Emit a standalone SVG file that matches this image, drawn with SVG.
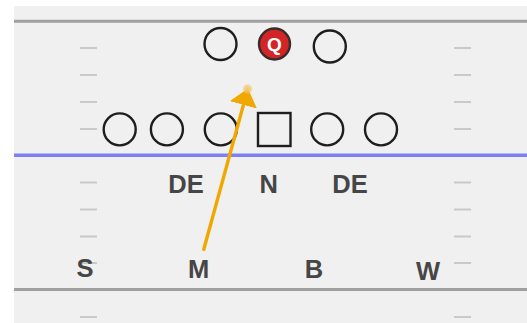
<svg xmlns="http://www.w3.org/2000/svg" width="527" height="323" viewBox="0 0 527 323">
  <style>
    .hash { stroke: #c9c9c9; stroke-width: 2; }
    .yard { stroke: #a0a0a0; stroke-width: 3; }
    .player { fill: #f0f0f0; stroke: #1e1e1e; stroke-width: 2.4; }
    .label { font-family: "Liberation Sans", Arial, sans-serif; font-weight: bold; font-size: 25.5px; fill: #464646; text-anchor: middle; }
    .route { stroke: #f0a800; stroke-width: 3.4; fill: none; }
  </style>
  <defs>
    <marker id="arrowhead" markerWidth="17" markerHeight="28" refX="4" refY="14" orient="auto" markerUnits="userSpaceOnUse" viewBox="0 0 17 28">
      <path d="M0,0 L17,14 L0,28 Z" fill="#f0a800"/>
    </marker>
    <radialGradient id="glow">
      <stop offset="0" stop-color="#f6c56a" stop-opacity="1"/>
      <stop offset="0.6" stop-color="#f6c56a" stop-opacity="0.7"/>
      <stop offset="1" stop-color="#f6c56a" stop-opacity="0"/>
    </radialGradient>
  </defs>

  <!-- field -->
  <rect x="0" y="0" width="527" height="323" fill="#ffffff"/>
  <rect x="14" y="6" width="513" height="317" fill="#f0f0f0"/>

  <!-- hash marks -->
  <g id="hashes">
    <g class="hash">
      <line x1="80" y1="48" x2="97" y2="48"/><line x1="454" y1="48" x2="471" y2="48"/>
      <line x1="80" y1="75" x2="97" y2="75"/><line x1="454" y1="75" x2="471" y2="75"/>
      <line x1="80" y1="102" x2="97" y2="102"/><line x1="454" y1="102" x2="471" y2="102"/>
      <line x1="80" y1="129" x2="97" y2="129"/><line x1="454" y1="129" x2="471" y2="129"/>
      <line x1="80" y1="182.5" x2="97" y2="182.5"/><line x1="454" y1="182.5" x2="471" y2="182.5"/>
      <line x1="80" y1="209.5" x2="97" y2="209.5"/><line x1="454" y1="209.5" x2="471" y2="209.5"/>
      <line x1="80" y1="236.5" x2="97" y2="236.5"/><line x1="454" y1="236.5" x2="471" y2="236.5"/>
      <line x1="80" y1="263" x2="97" y2="263"/><line x1="454" y1="263" x2="471" y2="263"/>
      <line x1="80" y1="317" x2="97" y2="317"/><line x1="454" y1="317" x2="471" y2="317"/>
    </g>
  </g>

  <!-- yard lines and line of scrimmage -->
  <line class="yard" x1="14" y1="21.3" x2="527" y2="21.3"/>
  <line class="yard" x1="14" y1="289.5" x2="527" y2="289.5"/>
  <line x1="14" y1="155.2" x2="527" y2="155.2" stroke="#7f7ff5" stroke-width="3.5"/>

  <!-- backfield -->
  <g id="back-left"><circle class="player" cx="220.5" cy="44" r="16"/></g>
  <g id="qb">
    <circle cx="274.5" cy="44" r="15.5" fill="#d32525" stroke="#3a2a2a" stroke-width="2.4"/>
    <text x="274.5" y="51" font-family="Liberation Sans, Arial, sans-serif" font-weight="bold" font-size="19" fill="#ffffff" text-anchor="middle">Q</text>
  </g>
  <g id="back-right"><circle class="player" cx="329.8" cy="46.5" r="16"/></g>

  <!-- offensive line -->
  <g id="ol-1"><circle class="player" cx="119.7" cy="129.4" r="16"/></g>
  <g id="ol-2"><circle class="player" cx="166.9" cy="129.4" r="16"/></g>
  <g id="ol-3"><circle class="player" cx="220.8" cy="129.4" r="16"/></g>
  <g id="center"><rect class="player" x="258" y="113" width="32.5" height="33"/></g>
  <g id="ol-4"><circle class="player" cx="327.2" cy="129.4" r="16"/></g>
  <g id="ol-5"><circle class="player" cx="381" cy="129.4" r="16"/></g>

  <!-- defense -->
  <g id="de-left"><text class="label" x="186" y="192.5">DE</text></g>
  <g id="nose"><text class="label" x="268.6" y="192.5">N</text></g>
  <g id="de-right"><text class="label" x="350" y="192.5">DE</text></g>
  <g id="sam"><text class="label" x="85" y="277">S</text></g>
  <g id="mike"><text class="label" x="198.5" y="278">M</text></g>
  <g id="buck"><text class="label" x="314" y="277.7">B</text></g>
  <g id="will"><text class="label" x="428" y="280">W</text></g>

  <!-- blitz route -->
  <g id="connectors">
    <line class="route" x1="203.4" y1="250.8" x2="244.5" y2="101" marker-end="url(#arrowhead)"/>
    <circle cx="247.5" cy="89" r="5.5" fill="url(#glow)"/>
  </g>
</svg>
